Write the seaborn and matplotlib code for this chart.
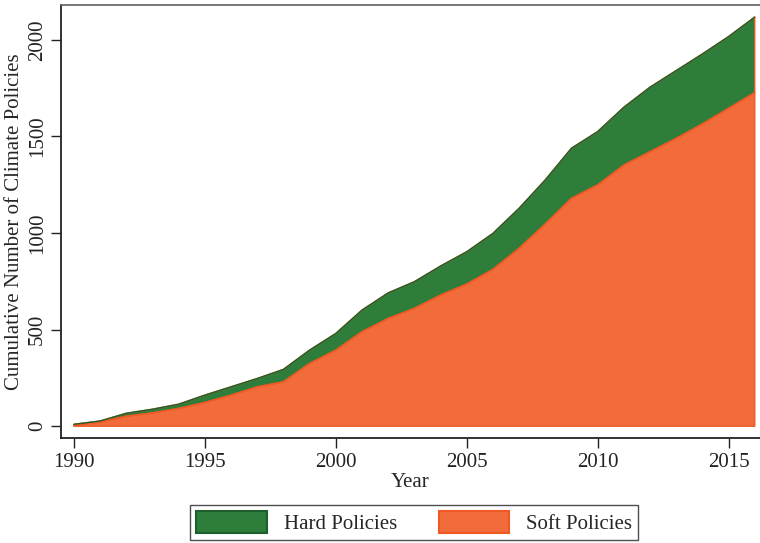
import numpy as np
import pandas as pd
import matplotlib
matplotlib.use("Agg")
import matplotlib.pyplot as plt
import seaborn as sns
from matplotlib.patches import Patch

# cumulative counts
years = list(range(1990, 2017))
soft = [5, 22, 52, 69, 92, 123, 161, 204, 230, 325, 394, 489, 558, 610, 679,
        736, 812, 921, 1047, 1180, 1249, 1352, 1421, 1490, 1565, 1646, 1727]
total = [10, 27, 67, 88, 114, 161, 204, 247, 294, 394, 480, 601, 690, 748, 829,
         903, 998, 1128, 1275, 1439, 1525, 1651, 1755, 1841, 1927, 2017, 2118]
hard = [t - s for t, s in zip(total, soft)]

df = pd.DataFrame({"Year": years, "Soft Policies": soft, "Hard Policies": hard})

green, green_edge = "#2e7d3b", "#1f5f2b"
orange, orange_edge = "#f26b3a", "#ef5a24"

sns.set_theme(style="ticks")
plt.rcParams["font.family"] = ["Liberation Serif", "DejaVu Serif"]

fig = plt.figure(figsize=(7.6, 5.43), dpi=100)
ax = fig.add_axes([0.080, 0.193, 0.92, 0.798])

ax.stackplot(df["Year"], df["Soft Policies"], df["Hard Policies"],
             colors=[orange, green], edgecolor=[orange_edge, green_edge],
             linewidth=1.0)
sns.lineplot(x=df["Year"], y=df["Soft Policies"], color=orange_edge, lw=1.0, ax=ax)
sns.lineplot(x=df["Year"], y=df["Soft Policies"] + df["Hard Policies"],
             color=green_edge, lw=1.0, ax=ax)

ax.set_xlim(1989.5, 2016.2)
ax.set_ylim(-62, 2181)
ax.set_xticks(range(1990, 2016, 5))
ax.set_yticks(range(0, 2001, 500))
ax.set_yticklabels([str(v) for v in range(0, 2001, 500)], rotation=90, va="center")
ax.tick_params(axis="both", direction="out", length=7, width=1.0,
               labelsize=15, colors="#222222")
ax.tick_params(axis="y", pad=3)
ax.set_xlabel("Year", fontsize=15, labelpad=1)
ax.set_ylabel("Cumulative Number of Climate Policies", fontsize=15, labelpad=3)

ax.spines["right"].set_visible(False)
ax.spines["top"].set_color("#666666")
ax.spines["left"].set_color("#222222")
ax.spines["bottom"].set_color("#222222")
ax.spines["bottom"].set_linewidth(1.3)
ax.spines["left"].set_linewidth(1.3)

handles = [Patch(facecolor=green, edgecolor=green_edge, lw=1.5, label="Hard Policies"),
           Patch(facecolor=orange, edgecolor=orange_edge, lw=1.5, label="Soft Policies")]
leg = fig.legend(handles=handles, loc="lower center", bbox_to_anchor=(0.545, -0.014),
                 ncol=2, fontsize=15, frameon=True, fancybox=False,
                 handlelength=3.4, handleheight=1.2, columnspacing=2.0,
                 borderpad=0.3, handletextpad=0.8)
leg.get_frame().set_edgecolor("#222222")
leg.get_frame().set_linewidth(1.0)

fig.savefig("out.png", dpi=100)
